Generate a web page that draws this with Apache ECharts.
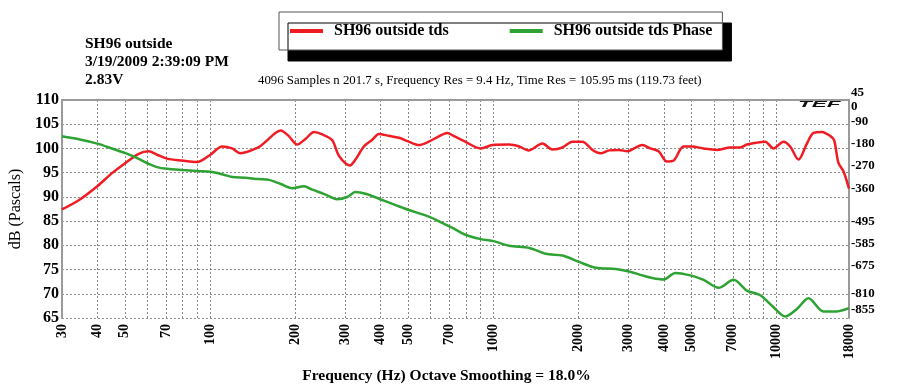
<!DOCTYPE html>
<html>
<head>
<meta charset="utf-8">
<script src="https://cdn.jsdelivr.net/npm/echarts@6/dist/echarts.min.js"></script>
<style>html,body{margin:0;padding:0;background:#fff}#c{width:899px;height:389px}</style>
</head>
<body>
<div id="c"></div>
<script>
// ---- data ----
const xLabelValues = [30, 40, 50, 70, 100, 200, 300, 400, 500, 700, 1000, 2000, 3000, 4000, 5000, 7000, 10000, 18000];
const xGridValues = [30, 40, 50, 60, 70, 80, 90, 100, 200, 300, 400, 500, 600, 700, 800, 900, 1000, 2000, 3000, 4000, 5000, 6000, 7000, 8000, 9000, 10000, 18000];
const phaseLabelValues = [-855, -675, -585, -495, -360, -270, -180, -90, 0];
const phaseLabelValues2 = [-810];

const redFreq = [30, 34.4, 40, 45.1, 50.3, 56, 60.8, 65, 70.5, 79.7, 90, 100.3, 110.3, 119.6, 128, 148, 157, 177.6, 190, 203, 217.6, 232.7, 249, 270, 285, 311.7, 326, 349, 374, 394.5, 428, 464, 503, 546, 592, 642, 687, 718, 789, 903, 993, 1137, 1233, 1330, 1490, 1616, 1753, 1901, 2062, 2236, 2392, 2561, 2777, 2971, 3138, 3355, 3582, 3831, 4102, 4326, 4692, 5023, 5520, 6155, 6857, 7437, 7851, 8516, 9111, 9745, 10568, 11158, 11940, 12783, 13488, 14440, 15444, 15953, 16520, 17206, 18000];
const redDb = [87.4, 89.3, 92.2, 94.9, 97.0, 98.9, 99.4, 98.7, 97.9, 97.5, 97.2, 98.7, 100.4, 100.0, 99.0, 100.2, 101.4, 103.7, 102.5, 100.8, 102.0, 103.4, 102.9, 101.7, 98.5, 96.5, 97.7, 100.4, 101.8, 103.0, 102.6, 102.2, 101.4, 100.7, 101.4, 102.5, 103.2, 102.7, 101.5, 100.0, 100.7, 100.8, 100.4, 99.6, 101.0, 99.8, 100.2, 101.4, 101.4, 99.7, 99.0, 99.6, 99.7, 99.4, 100.0, 100.7, 100.0, 99.4, 97.3, 97.5, 100.4, 100.4, 100.0, 99.7, 100.2, 100.2, 100.8, 101.2, 101.4, 100.0, 101.4, 100.4, 97.7, 101.0, 103.2, 103.4, 102.6, 101.7, 97.0, 95.3, 91.7];

const greenFreq = [30, 34.4, 40, 45.1, 50.3, 56, 60.8, 65, 70.5, 79.7, 90, 100.3, 110.3, 119.6, 133, 148, 161.5, 177.6, 195, 214.6, 229.7, 252, 281, 305, 326, 354, 394.5, 452, 503, 592, 660, 718, 789, 903, 993, 1137, 1340, 1531, 1753, 2008, 2297, 2702, 3013, 3355, 3639, 3990, 4387, 4955, 5520, 6237, 7045, 7851, 8748, 9745, 10716, 11787, 12945, 14625, 16305, 18000];
const greenPhase = [-148, -160, -178, -198, -217, -240, -261, -274, -281, -286, -290, -293, -303, -314, -317, -323, -326, -343, -360, -352, -366, -383, -405, -396, -376, -383, -403, -429, -449, -476, -502, -522, -548, -568, -575, -595, -604, -628, -635, -661, -685, -690, -700, -716, -727, -733, -706, -716, -734, -767, -734, -778, -797, -846, -884, -853, -809, -863, -863, -850];

// ---- chart ----
const serif = 'Liberation Serif';
const chart = echarts.init(document.getElementById('c'), null, {renderer: 'canvas'});
const zip = (a, b) => a.map((v, i) => [v, b[i]]);
const phaseLabelBase = {fontFamily: serif, fontWeight: 'bold', fontSize: 13, color: '#000', margin: 2};

chart.setOption({
  animation: false,
  backgroundColor: '#fff',
  grid: {left: 61, right: 50, top: 100, bottom: 65},
  legend: {
    left: 279, top: 12,
    padding: [11, 10, 11, 11],
    itemGap: 61, itemWidth: 33, itemHeight: 4,
    icon: 'rect',
    backgroundColor: '#fff', borderColor: '#555', borderWidth: 1,
    shadowColor: '#000', shadowBlur: 0, shadowOffsetX: 9, shadowOffsetY: 11,
    textStyle: {fontFamily: serif, fontWeight: 'bold', fontSize: 16, color: '#000', padding: [0, 0, 0, 6]},
    data: ['SH96 outside tds', 'SH96 outside tds Phase']
  },
  xAxis: {
    type: 'log', logBase: 10, min: 30, max: 18000,
    name: 'Frequency (Hz) Octave Smoothing = 18.0%',
    nameLocation: 'middle', nameGap: 50,
    nameTextStyle: {fontFamily: serif, fontWeight: 'bold', fontSize: 15.5, color: '#000', padding: [0, 18, 0, 0]},
    axisLine: {show: true, lineStyle: {color: '#9a9a9a', width: 2}},
    axisTick: {show: false, customValues: xGridValues},
    axisLabel: {customValues: xLabelValues, rotate: 90, fontFamily: serif, fontWeight: 'bold', fontSize: 14, color: '#000', margin: 6,
      formatter: v => String(Math.round(v))},
    splitLine: {show: true, lineStyle: {color: '#888', type: [2, 2], width: 1}},
    minorTick: {show: false}, minorSplitLine: {show: false}
  },
  yAxis: [{
    type: 'value', min: 65, max: 110, interval: 5,
    name: 'dB (Pascals)', nameLocation: 'middle', nameGap: 27, nameRotate: 90,
    nameTextStyle: {fontFamily: serif, fontSize: 16, color: '#000'},
    axisLine: {show: true, lineStyle: {color: '#9a9a9a', width: 2}},
    axisTick: {show: false},
    axisLabel: {fontFamily: serif, fontWeight: 'bold', fontSize: 16, color: '#000', margin: 3},
    splitLine: {show: true, lineStyle: {color: '#888', type: [2, 2], width: 1}}
  }, {
    type: 'value', min: -890, max: 0, position: 'right',
    axisLine: {show: true, lineStyle: {color: '#9a9a9a', width: 2}},
    axisTick: {show: false, customValues: phaseLabelValues},
    axisLabel: Object.assign({}, phaseLabelBase, {
      customValues: phaseLabelValues,
      showMinLabel: true, showMaxLabel: true, hideOverlap: false,
      formatter: v => (v === 0 ? '{t|45}\n{t|0}' : String(v)),
      rich: {t: {fontFamily: serif, fontWeight: 'bold', fontSize: 13, color: '#000', lineHeight: 14}}
    }),
    splitLine: {show: false}
  }, {
    type: 'value', min: -890, max: 0, position: 'right',
    axisLine: {show: false},
    axisTick: {show: false, customValues: phaseLabelValues2},
    axisLabel: Object.assign({}, phaseLabelBase, {
      customValues: phaseLabelValues2,
      showMinLabel: true, showMaxLabel: true,
      formatter: v => '{u|' + v + '}',
      rich: {u: {fontFamily: serif, fontWeight: 'bold', fontSize: 13, color: '#000', padding: [0, 0, 9, 0]}}
    }),
    splitLine: {show: false}
  }],
  series: [{
    name: 'SH96 outside tds', type: 'line', xAxisIndex: 0, yAxisIndex: 0,
    data: zip(redFreq, redDb), showSymbol: false, smooth: 0.3,
    lineStyle: {color: '#f01c24', width: 2.5}, itemStyle: {color: '#f01c24'}
  }, {
    name: 'SH96 outside tds Phase', type: 'line', xAxisIndex: 0, yAxisIndex: 1,
    data: zip(greenFreq, greenPhase), showSymbol: false, smooth: 0.3,
    lineStyle: {color: '#2ea232', width: 2.5}, itemStyle: {color: '#2ea232'}
  }],
  graphic: [{
    type: 'text', left: 85, top: 35,
    style: {text: 'SH96 outside\n3/19/2009 2:39:09 PM\n2.83V', font: 'bold 15.5px "Liberation Serif"', fill: '#000', lineHeight: 18}
  }, {
    type: 'text', left: 258, top: 74,
    style: {text: '4096 Samples n 201.7 s, Frequency Res = 9.4 Hz, Time Res = 105.95 ms (119.73 feet)', font: '12.8px "Liberation Serif"', fill: '#000'}
  }, {
    type: 'text', left: 798, top: 101, scaleX: 1.5, scaleY: 0.55,
    style: {text: 'TEF', font: 'italic 900 15px "Liberation Sans"', fill: '#111'}
  }]
});
</script>
</body>
</html>
